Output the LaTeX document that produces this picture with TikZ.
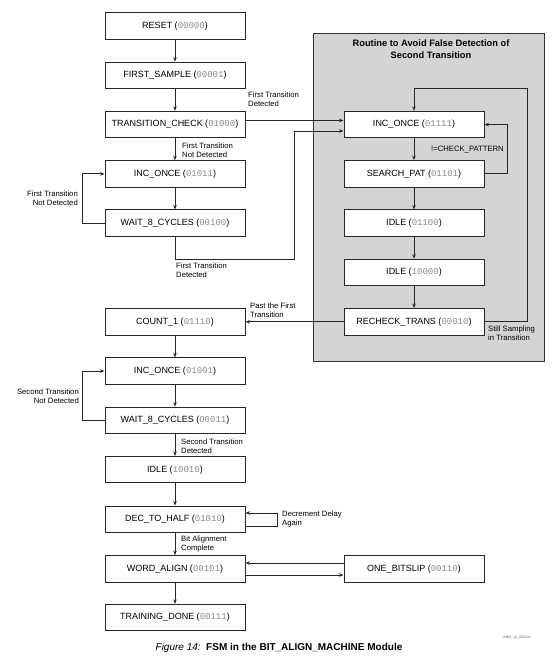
\documentclass[tikz,border=0pt]{standalone}
\usepackage{fontspec}
\setmainfont{Liberation Sans}
\newfontfamily\codefont{Liberation Mono}
\usetikzlibrary{arrows.meta}
\definecolor{panel}{HTML}{D4D4D4}
\definecolor{codegray}{HTML}{8A8A8A}
\newcommand{\cd}[1]{({\codefont\color{codegray}#1})}
\tikzset{
  x=1pt, y=-1pt,
  state/.style={draw=black!85, line width=1pt, fill=white, minimum width=140pt, minimum height=26.5pt, inner sep=0pt, font=\fontsize{9}{10}\selectfont},
  lbl/.style={font=\fontsize{7.7}{9}\selectfont, inner sep=0pt, align=left},
  conn/.style={draw=black!85, line width=0.9pt, -{Stealth[length=4.5pt,width=3.5pt]}},
  plain/.style={draw=black!85, line width=0.9pt}
}
\begin{document}
\begin{tikzpicture}
\useasboundingbox (0,0) rectangle (560,662);
\fill[white] (0,0) rectangle (560,662);
% gray panel
\draw[fill=panel, draw=black!80, line width=1pt] (313,33) rectangle (544,361);
\node[font=\fontsize{9.3}{11.5}\selectfont\bfseries, align=center] (ptitle) at (431,49) {Routine to Avoid False Detection of\\Second Transition};

% main column
\node[state] (reset) at (175,26) {RESET \cd{00000}};
\node[state] (fs) at (175,75.3) {FIRST\_SAMPLE \cd{00001}};
\node[state] (tc) at (175,124.6) {TRANSITION\_CHECK \cd{01000}};
\node[state] (inc1) at (175,173.9) {INC\_ONCE \cd{01011}};
\node[state] (w1) at (175,223.2) {WAIT\_8\_CYCLES \cd{00100}};
\node[state] (c1) at (175,321.8) {COUNT\_1 \cd{01110}};
\node[state] (inc2) at (175,371.1) {INC\_ONCE \cd{01001}};
\node[state] (w2) at (175,420.4) {WAIT\_8\_CYCLES \cd{00011}};
\node[state] (idle) at (175,469.7) {IDLE \cd{10010}};
\node[state] (dec) at (175,519.3) {DEC\_TO\_HALF \cd{01010}};
\node[state] (wa) at (175,568.8) {WORD\_ALIGN \cd{00101}};
\node[state] (td) at (175,617.6) {TRAINING\_DONE \cd{00111}};
\node[state] (ob) at (414,568.8) {ONE\_BITSLIP \cd{00110}};

% panel column
\node[state] (pinc) at (414,124.6) {INC\_ONCE \cd{01111}};
\node[state] (sp) at (414,173.9) {SEARCH\_PAT \cd{01101}};
\node[state] (pi1) at (414,223.2) {IDLE \cd{01100}};
\node[state] (pi2) at (414,272.5) {IDLE \cd{10000}};
\node[state] (rt) at (414,321.8) {RECHECK\_TRANS \cd{00010}};

% vertical arrows main
\draw[conn] (reset) -- (fs);
\draw[conn] (fs) -- (tc);
\draw[conn] (tc) -- (inc1);
\draw[conn] (inc1) -- (w1);
\draw[conn] (c1) -- (inc2);
\draw[conn] (inc2) -- (w2);
\draw[conn] (w2) -- (idle);
\draw[conn] (idle) -- (dec);
\draw[conn] (dec) -- (wa);
\draw[conn] (wa) -- (td);
% panel arrows
\draw[conn] (pinc) -- (sp);
\draw[conn] (sp) -- (pi1);
\draw[conn] (pi1) -- (pi2);
\draw[conn] (pi2) -- (rt);

% loops on left
\draw[conn] (w1.west) -- ++(-22,0) |- (inc1.west);
\draw[conn] (w2.west) -- ++(-22,0) |- (inc2.west);

% transition check -> panel inc once
\draw[conn] (tc.east |- 0,120.5) -- (pinc.west |- 0,120.5);
% wait -> panel inc once
\coordinate (wdown) at (175,259);
\draw[conn] (w1.south) -- (wdown) -- (294,259) |- (pinc.west |- 0,131);
% search loop
\draw[conn] (sp.east) -- (507,173.9) |- (pinc.east);
% recheck loop
\draw[conn] (rt.east) -- (527,321.8) |- (414,88) -- (pinc.north);
% recheck -> count_1
\draw[conn] (rt.west) -- (c1.east);
% decrement loop
\draw[conn] (dec.east |- 0,526) -- (277,526) |- (dec.east |- 0,513);
% word align <-> one bitslip
\draw[conn] (ob.west |- 0,563) -- (wa.east |- 0,563);
\draw[conn] (wa.east |- 0,575) -- (ob.west |- 0,575);

% labels
\node[lbl, anchor=west] (l1) at (248,99.5) {First Transition\\Detected};
\node[lbl, anchor=west] (l2) at (182,150.5) {First Transition\\Not Detected};
\node[lbl, anchor=east, align=right] (l3) at (78,198) {First Transition\\Not Detected};
\node[lbl, anchor=west] (l4) at (176,270.5) {First Transition\\Detected};
\node[lbl, anchor=east, align=right] (l5) at (504,150) {!=CHECK\_PATTERN};
\node[lbl, anchor=west] (l6) at (488,333) {Still Sampling\\in Transition};
\node[lbl, anchor=west] (l7) at (250,310) {Past the First\\Transition};
\node[lbl, anchor=east, align=right] (l8) at (79,396.5) {Second Transition\\Not Detected};
\node[lbl, anchor=west] (l9) at (181,446) {Second Transition\\Detected};
\node[lbl, anchor=west] (l10) at (282,519.5) {Decrement Delay\\Again};
\node[lbl, anchor=west] (l11) at (181,544) {Bit Alignment\\Complete};
\node[font=\fontsize{3.5}{4}\selectfont, text=black!60, inner sep=0pt] (xid) at (517,638) {X860\_14\_092104};
\node[font=\fontsize{10}{12}\selectfont, inner sep=0pt] (cap) at (279,648) {\textit{Figure 14:}\ \ \textbf{FSM in the BIT\_ALIGN\_MACHINE Module}};
\end{tikzpicture}
\end{document}
